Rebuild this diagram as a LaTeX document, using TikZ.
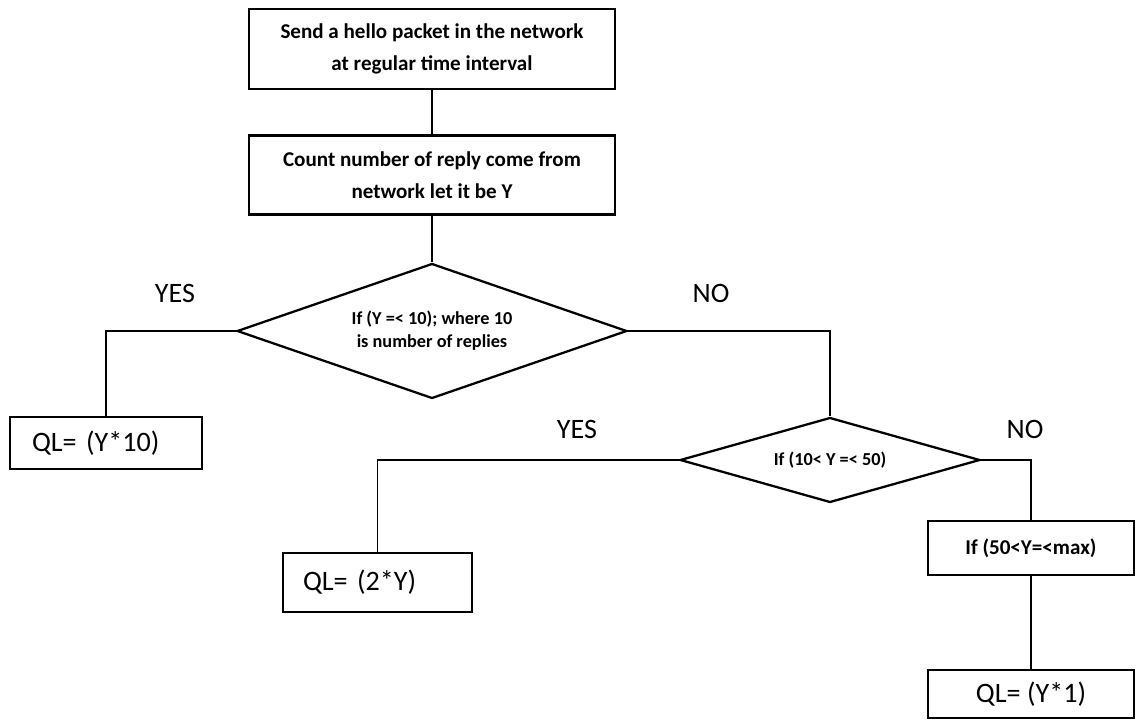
\documentclass[tikz,border=0pt]{standalone}
\usepackage{fontspec}
\setmainfont{Carlito}
\usetikzlibrary{shapes.geometric, calc}
\tikzset{
	procbox/.style={draw, line width=1.3pt, rectangle, align=center, inner sep=0pt,
		font=\fontsize{12}{18}\selectfont\bfseries},
	decbox/.style={draw, line width=1.3pt, diamond, align=center, inner sep=0pt,
		font=\fontsize{10.4}{13}\selectfont\bfseries},
	qlbox/.style={draw, line width=1.3pt, rectangle, font=\fontsize{16}{19}\selectfont},
	answer/.style={font=\fontsize{16}{19}\selectfont}
}

\begin{document}
\begin{tikzpicture}[x=0.02cm, y=-0.02cm, line width=0.9pt]
	\useasboundingbox (0,0) rectangle (1136,720);
	
	% main column
	\node[procbox, minimum width=7.32cm, minimum height=1.6cm] (hello) at (432,49) {Send a hello packet in the network\\at regular time interval};
	\node[procbox, minimum width=7.32cm, minimum height=1.58cm] (count) at (432,175) {Count number of reply come from\\network let it be Y};
	
	\node[decbox, minimum width=7.8cm, minimum height=2.7cm, aspect=2.9] (test1) at (432,331) {If (Y =< 10); where 10\\is number of replies};
	\node[decbox, minimum width=6cm, minimum height=1.7cm, aspect=3.5] (test2) at (830,460) {If (10< Y =< 50)};
	
	% results
	\node[qlbox, minimum width=3.84cm, minimum height=1.04cm, text width=2.96cm, inner xsep=0.44cm, align=left] (qlten) at (106,443) {QL= (Y*10)};
	\node[qlbox, minimum width=3.78cm, minimum height=1.18cm, text width=2.98cm, inner xsep=0.4cm, align=left] (qltwo) at (377.5,582.5) {QL= (2*Y)};
	\node[procbox, minimum width=4.12cm, minimum height=1.08cm] (range) at (1031,548) {If (50<Y=<max)};
	\node[qlbox, minimum width=4.12cm, minimum height=0.96cm] (qlone) at (1031,694) {QL= (Y*1)};
	
	% branch labels
	\node[answer] (yesa) at (175,293) {YES};
	\node[answer] (noa) at (711,293) {NO};
	\node[answer] (yesb) at (577,429) {YES};
	\node[answer] (nob) at (1025,429) {NO};
	
	% connectors
	\draw (hello) -- (count);
	\draw (count) -- (test1);
	\draw (test1.west) -| (qlten.north);
	\draw (test1.east) -| (test2.north);
	\draw (test2.west) -| (qltwo.north);
	\draw (test2.east) -| (range.north);
	\draw (range) -- (qlone);
\end{tikzpicture}
\end{document}
